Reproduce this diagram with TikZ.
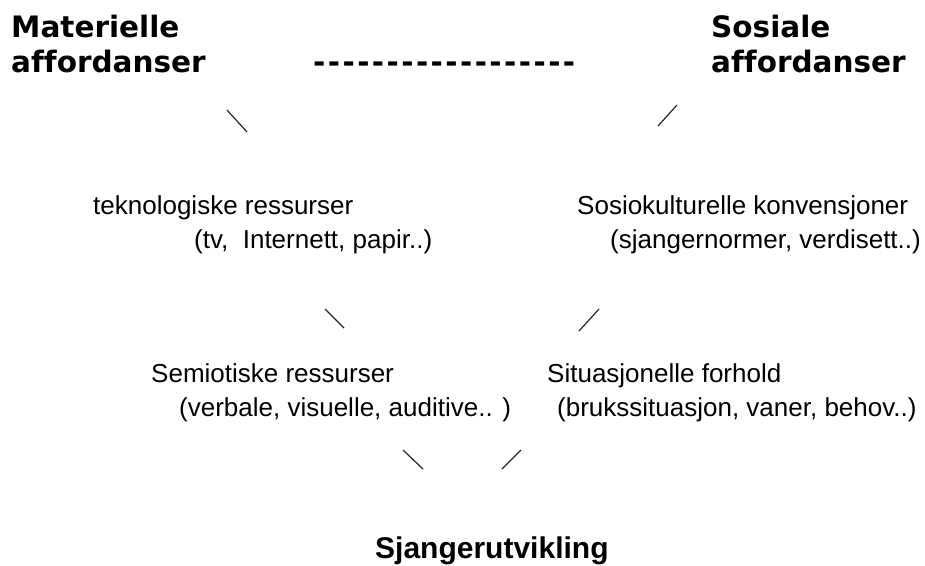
\documentclass[tikz,border=0pt]{standalone}
\usepackage{fontspec}
\setmainfont{Liberation Sans}
\newfontfamily\headfont{DejaVu Sans}[Ligatures={TeXOff,CommonOff}]
\usepackage{tikz}
\usetikzlibrary{positioning}

\begin{document}
\begin{tikzpicture}[
            x=1pt, y=-1pt,
            heading/.style={anchor=base west, inner sep=0pt, font=\headfont\bfseries\fontsize{29.5}{35}\selectfont},
            body/.style={anchor=base west, inner sep=0pt, font=\fontsize{26}{31}\selectfont},
            goal/.style={anchor=base west, inner sep=0pt, font=\bfseries\fontsize{30}{36}\selectfont},
            stroke/.style={draw=black!85, line width=1.2pt},
        ]
            \useasboundingbox (0,0) rectangle (925,565);

            % top row
            \node[heading] (mat) at (11,37) {Materielle};
            \node[heading] (matAff) at (11,72) {affordanser};
            \node[heading] (sos) at (711,37) {Sosiale};
            \node[heading] (sosAff) at (711,72) {affordanser};
            \node[heading] (dash) at (313,72) {\foreach \k in {1,...,18}{-\hspace{2.45pt}}};

            % middle rows
            \node[body] (tek) at (93,214) {teknologiske ressurser};
            \node[body] (tekEx) at (194,248) {(tv,\ \ Internett, papir..)};
            \node[body] (sosk) at (577,214) {Sosiokulturelle konvensjoner};
            \node[body] (soskEx) at (610,248) {(sjangernormer, verdisett..)};
            \node[body] (sem) at (151,382) {Semiotiske ressurser};
            \node[body] (semEx) at (179,416) {(verbale, visuelle, auditive.. )};
            \node[body] (sit) at (547,382) {Situasjonelle forhold};
            \node[body] (sitEx) at (557,416) {(brukssituasjon, vaner, behov..)};

            % bottom
            \node[goal] (sjanger) at (375,558) {Sjangerutvikling};

            % short strokes
            \coordinate (matA) at (227,110);
            \coordinate (matB) at (247,132);
            \coordinate (sosA) at (677,105);
            \coordinate (sosB) at (658,126);
            \coordinate (tekA) at (325,309);
            \coordinate (tekB) at (344,328);
            \coordinate (soskA) at (599,309);
            \coordinate (soskB) at (579,331);
            \coordinate (semA) at (403,450);
            \coordinate (semB) at (423,469);
            \coordinate (sitA) at (521,450);
            \coordinate (sitB) at (502,469);
            \draw[stroke] (matA) -- (matB);
            \draw[stroke] (sosA) -- (sosB);
            \draw[stroke] (tekA) -- (tekB);
            \draw[stroke] (soskA) -- (soskB);
            \draw[stroke] (semA) -- (semB);
            \draw[stroke] (sitA) -- (sitB);
        \end{tikzpicture}
\end{document}
